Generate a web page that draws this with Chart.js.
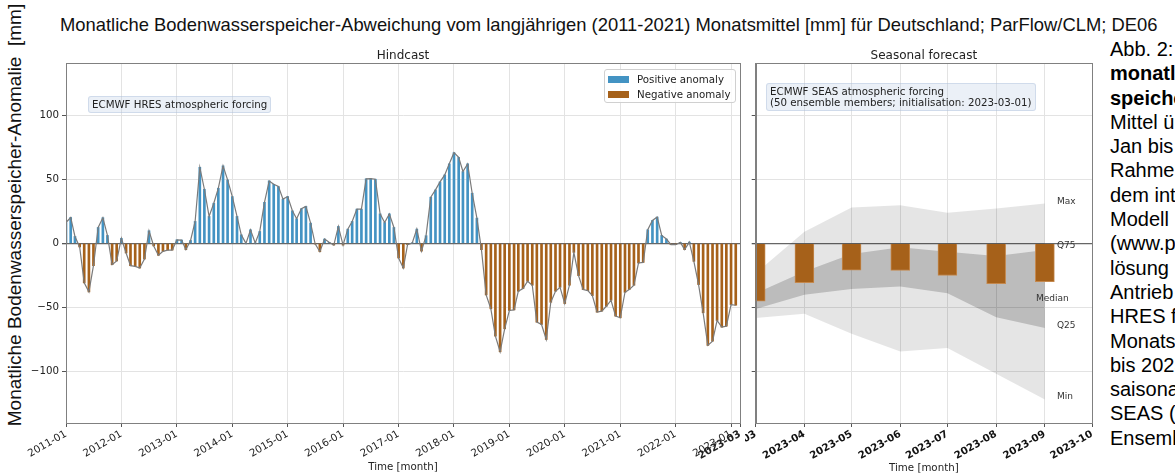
<!DOCTYPE html>
<html>
<head>
<meta charset="utf-8">
<script src="https://cdn.jsdelivr.net/npm/chart.js@4.4.1/dist/chart.umd.min.js"></script>
<style>
  body { margin: 0; width: 1175px; height: 474px; overflow: hidden; background: #fff; position: relative; font-family: "DejaVu Sans", sans-serif; }
  canvas { position: absolute; top: 0; }
  #hind { left: 0; }
  #seas { left: 745px; }
  .box { position: absolute; background: rgba(176,196,222,0.25); border: 1px solid rgba(176,196,222,0.45); border-radius: 3px; font-size: 10.25px; line-height: 11px; color: #222; padding: 2px 3px; white-space: nowrap; }
  #legend { position: absolute; left: 604px; top: 69px; width: 130px; height: 32px; border: 1px solid #d0d0d0; border-radius: 3px; background: rgba(255,255,255,0.85); font-size: 10.25px; color: #222; }
  #legend .row { position: absolute; left: 3px; height: 12px; line-height: 12px; white-space: nowrap; }
  #legend .sw { display: inline-block; width: 21px; height: 7px; vertical-align: middle; margin-right: 8px; margin-top: -2px; }
  #suptitle { position: absolute; left: 60px; top: 15px; font-family: "Liberation Sans", Arial, sans-serif; font-size: 18.4px; line-height: 20px; color: #111; white-space: nowrap; }
  #ylabel { position: absolute; left: -225px; top: 203px; width: 480px; height: 24px; line-height: 24px; text-align: center; font-family: "Liberation Sans", Arial, sans-serif; font-size: 19px; color: #111; transform: rotate(-90deg); white-space: nowrap; }
  #caption { position: absolute; left: 1110px; top: 37px; font-family: "Liberation Sans", Arial, sans-serif; font-size: 20px; line-height: 24.3px; color: #000; white-space: nowrap; }
</style>
</head>
<body>
<div id="suptitle">Monatliche Bodenwasserspeicher-Abweichung vom langjährigen (2011-2021) Monatsmittel [mm] für Deutschland; ParFlow/CLM; DE06</div>
<div id="ylabel">Monatliche Bodenwasserspeicher-Anomalie&nbsp;&nbsp;[mm]</div>
<canvas id="hind" width="745" height="474"></canvas>
<canvas id="seas" width="365" height="474"></canvas>
<div class="box" style="left:88px;top:96px;">ECMWF HRES atmospheric forcing</div>
<div class="box" style="left:766px;top:83px;">ECMWF SEAS atmospheric forcing<br>(50 ensemble members; initialisation: 2023-03-01)</div>
<div id="legend">
  <div class="row" style="top:3px;"><span class="sw" style="background:#4393c3"></span>Positive anomaly</div>
  <div class="row" style="top:18px;"><span class="sw" style="background:#a6611a"></span>Negative anomaly</div>
</div>
<div id="caption">
  Abb. 2: <b>Abweichung des</b><br>
  <b>monatlichen Bodenwasser-</b><br>
  <b>speichers</b> vom langjährigen<br>
  Mittel über 2011-2021 von<br>
  Jan bis Dez; berechnet im<br>
  Rahmen der Vorhersage mit<br>
  dem integrierten hydrologischen<br>
  Modell ParFlow/CLM<br>
  (www.parflow.org); Rück-<br>
  lösung mit atmosphärischem<br>
  Antrieb des ECMWF<br>
  HRES für die<br>
  Monatsmittel von 2011<br>
  bis 2023-02 und<br>
  saisonale Vorhersage mit ECMWF<br>
  SEAS (50<br>
  Ensemble-Member)
</div>
<script>
// Hindcast: Monatswerte ab 2011-01 (mm)
const hindStart = '2011-01';
const hindValues = [
  16.3, 20.2, 5.4, -2.8, -30.8, -37.8, -17.4, 12.4, 20, 6.2, -16.6, -13.7,
  3.9, -7.5, -17.4, -17.9, -19.2, -12.2, 9.8, -2, -9.3, -6.2, -5.2, -5.2,
  2.8, 2.6, -4.9, 2.3, 17.1, 59.3, 42.2, 21, 31.3, 43, 60.4, 49.5,
  36.5, 21, 6.7, 0, 10.6, 0.3, 9.3, 32, 48.7, 46.1, 44.3, 34.5,
  36.5, 25.4, 19.2, 27, 28.8, 15.8, -0.3, -6.5, 3.4, 0.8, -1.3, 13.2,
  -1.3, 11.1, 17.1, 26.7, 26.7, 50.3, 50.5, 50, 23, 16.3, 23, 12.4,
  -11.4, -19.2, -1, 0.3, 11.1, -6, 6, 36, 41.7, 47.9, 53.4, 62,
  70.7, 67, 56, 62, 39.1, 19.7, -4.9, -40.2, -51, -72.3, -84.5, -66.6,
  -52.3, -51.8, -37.3, -35.2, -29.5, -32.6, -61.4, -63.2, -74.9, -45.9, -37.3, -34.2,
  -46.9, -32.6, -7, -25.1, -36, -36.8, -40.7, -53.6, -52.8, -49, -44.3, -56.7,
  -58, -38.1, -36, -32.6, -15.3, -14.8, 10.6, 17.9, 20.5, 6.2, 3.4, -1,
  -1, 0.8, -4.9, 1, -14, -32.1, -54.1, -79.5, -76.2, -60.1, -65.3, -64.5,
  -47.7, -48.2
];
const hindTicks = ['2011-01', '2012-01', '2013-01', '2014-01', '2015-01', '2016-01', '2017-01',
  '2018-01', '2019-01', '2020-01', '2021-01', '2022-01', '2023-01', '2023-03'];

// Saisonale Vorhersage (Ensemble-Statistik)
const seasMonths = ['2023-03', '2023-04', '2023-05', '2023-06', '2023-07', '2023-08', '2023-09'];
const seasBars = [-45.1, -30.7, -20.9, -21.1, -25, -31.4, -29.9];
const seasMax = [-23.3, 9, 28, 29.7, 23.8, 27.2, 31];
const seasQ75 = [-38.8, -22, -8.3, -3.1, -6.5, -9.9, -5.2];
const seasQ25 = [-51.2, -40.1, -35.5, -33.7, -38.8, -57.5, -66];
const seasMin = [-58.2, -54.9, -70.4, -84.2, -81.5, -101.7, -121.7];
const seasTicks = ['2023-03', '2023-04', '2023-05', '2023-06', '2023-07', '2023-08', '2023-09', '2023-10'];
const bandLabels = ['Max', 'Q75', 'Median', 'Q25', 'Min'];
const bandLabelValues = [32.9, -2, -42.7, -63.9, -119.4];

const yTicks = [-100, -50, 0, 50, 100];

const POS = '#4393c3';
const NEG = '#a6611a';
const GRID = '#e3e3e3';
const FRAME = '#808080';

// Tage seit Epoche für 'YYYY-MM'
const dayOf = (s) => { const [y, m] = s.split('-').map(Number); return Date.UTC(y, m - 1, 1) / 864e5; };
const H0 = dayOf(hindStart);
const [hy, hm] = hindStart.split('-').map(Number);
const hindX = hindValues.map((v, i) => Date.UTC(hy, hm - 1 + i, 1) / 864e5 - H0);
const S0 = dayOf(seasTicks[0]);
const seasX = seasMonths.map(m => dayOf(m) - S0);

// Rahmen um die Achsenfläche
const framePlugin = {
  id: 'frame',
  afterDraw(chart) {
    const a = chart.chartArea, ctx = chart.ctx;
    ctx.save();
    ctx.strokeStyle = FRAME;
    ctx.lineWidth = 1;
    ctx.strokeRect(Math.round(a.left) + 0.5, Math.round(a.top) + 0.5,
      Math.round(a.right) - Math.round(a.left), Math.round(a.bottom) - Math.round(a.top));
    ctx.restore();
  }
};

// Titel mittig über der Achsenfläche
const panelTitle = {
  id: 'panelTitle',
  afterDraw(chart, args, opts) {
    const a = chart.chartArea, ctx = chart.ctx;
    ctx.save();
    ctx.font = '12px "DejaVu Sans"';
    ctx.fillStyle = '#222';
    ctx.textAlign = 'center';
    ctx.textBaseline = 'alphabetic';
    ctx.fillText(opts.text, (a.left + a.right) / 2, a.top - 4);
    ctx.restore();
  }
};

const yGrid = {
  color: ctx => ctx.tick && ctx.tick.value === 0 ? '#666' : GRID,
  lineWidth: ctx => ctx.tick && ctx.tick.value === 0 ? 1.3 : 1,
  tickColor: '#555',
  tickLength: 4
};

new Chart(document.getElementById('hind'), {
  type: 'line',
  data: {
    datasets: [
      {
        type: 'line',
        data: hindX.map((x, i) => ({ x, y: hindValues[i] })),
        borderColor: '#7a7a7a',
        borderWidth: 1.2,
        pointRadius: 0,
        tension: 0,
        order: 0
      },
      {
        type: 'bar',
        data: hindX.map((x, i) => ({ x, y: hindValues[i] })),
        backgroundColor: hindValues.map(v => v >= 0 ? POS : NEG),
        barThickness: 2,
        order: 1
      }
    ]
  },
  options: {
    responsive: false,
    animation: false,
    layout: { padding: { left: 0, right: 5, top: 63, bottom: 0 } },
    plugins: { legend: { display: false }, tooltip: { enabled: false }, panelTitle: { text: 'Hindcast' } },
    scales: {
      x: {
        type: 'linear',
        offset: false,
        min: 0,
        max: dayOf('2023-03') - H0,
        afterBuildTicks: ax => { ax.ticks = hindTicks.map(t => ({ value: dayOf(t) - H0 })); },
        afterFit: s => { s.height = 51; s.paddingLeft = 0; s.paddingRight = 0; },
        ticks: {
          autoSkip: false, minRotation: 30, maxRotation: 30, padding: 1, color: '#222',
          font: ctx => ({ family: 'DejaVu Sans', size: 10.25, weight: ctx.index === hindTicks.length - 1 ? 'bold' : 'normal' }),
          callback: (v, i) => hindTicks[i]
        },
        grid: { color: GRID, tickColor: '#555', tickLength: 4, offset: false },
        border: { color: FRAME },
        title: { display: true, text: 'Time [month]', color: '#222', font: { family: 'DejaVu Sans', size: 10.25 }, padding: { top: 0, bottom: 1 } }
      },
      y: {
        min: -140,
        max: 140.6,
        afterBuildTicks: ax => { ax.ticks = yTicks.map(v => ({ value: v })); },
        afterFit: s => { s.width = 66; },
        ticks: { color: '#222', font: { family: 'DejaVu Sans', size: 10.25 }, padding: 3,
          callback: v => String(v).replace('-', '\u2212') },
        grid: yGrid,
        border: { color: FRAME }
      }
    }
  },
  plugins: [framePlugin, panelTitle]
});

// Beschriftung der Ensemble-Bänder
const bandLabelPlugin = {
  id: 'bandLabels',
  afterDatasetsDraw(chart) {
    const a = chart.chartArea, ctx = chart.ctx, y = chart.scales.y;
    const lefts = [-35, -35, -56, -35, -35];
    ctx.save();
    ctx.font = '9px "DejaVu Sans"';
    ctx.fillStyle = '#333';
    ctx.textAlign = 'left';
    ctx.textBaseline = 'middle';
    bandLabels.forEach((t, i) => ctx.fillText(t, a.right + lefts[i], y.getPixelForValue(bandLabelValues[i])));
    ctx.restore();
  }
};

const pts = arr => seasX.map((x, i) => ({ x, y: arr[i] }));

new Chart(document.getElementById('seas'), {
  type: 'line',
  data: {
    datasets: [
      { type: 'bar', data: pts(seasBars), backgroundColor: NEG, borderColor: '#c4884d', borderWidth: 1, barThickness: 19, order: 0 },
      { data: pts(seasMax), borderWidth: 0, pointRadius: 0, tension: 0, fill: 4, backgroundColor: 'rgba(0,0,0,0.1)', order: 4 },
      { data: pts(seasQ75), borderWidth: 0, pointRadius: 0, tension: 0, fill: 3, backgroundColor: 'rgba(0,0,0,0.18)', order: 3 },
      { data: pts(seasQ25), borderWidth: 0, pointRadius: 0, tension: 0, fill: false, order: 2 },
      { data: pts(seasMin), borderWidth: 0, pointRadius: 0, tension: 0, fill: false, order: 2 }
    ]
  },
  options: {
    responsive: false,
    animation: false,
    layout: { padding: { left: 0, right: 18, top: 63, bottom: 0 } },
    plugins: { legend: { display: false }, tooltip: { enabled: false }, panelTitle: { text: 'Seasonal forecast' } },
    scales: {
      x: {
        type: 'linear',
        offset: false,
        min: 0,
        max: dayOf('2023-10') - S0,
        afterBuildTicks: ax => { ax.ticks = seasTicks.map(t => ({ value: dayOf(t) - S0 })); },
        afterFit: s => { s.height = 51; s.paddingLeft = 0; s.paddingRight = 0; },
        ticks: {
          autoSkip: false, minRotation: 30, maxRotation: 30, padding: 1, color: '#111',
          font: { family: 'DejaVu Sans', size: 10.25, weight: 'bold' },
          callback: (v, i) => seasTicks[i]
        },
        grid: { color: GRID, tickColor: '#555', tickLength: 4, offset: false },
        border: { color: FRAME },
        title: { display: true, text: 'Time [month]', color: '#222', font: { family: 'DejaVu Sans', size: 10.25 }, padding: { top: 0, bottom: 0 } }
      },
      y: {
        min: -140,
        max: 140.6,
        afterBuildTicks: ax => { ax.ticks = yTicks.map(v => ({ value: v })); },
        afterFit: s => { s.width = 10.7; },
        ticks: { display: false },
        grid: yGrid,
        border: { color: FRAME }
      }
    }
  },
  plugins: [framePlugin, panelTitle, bandLabelPlugin]
});
</script>
</body>
</html>
